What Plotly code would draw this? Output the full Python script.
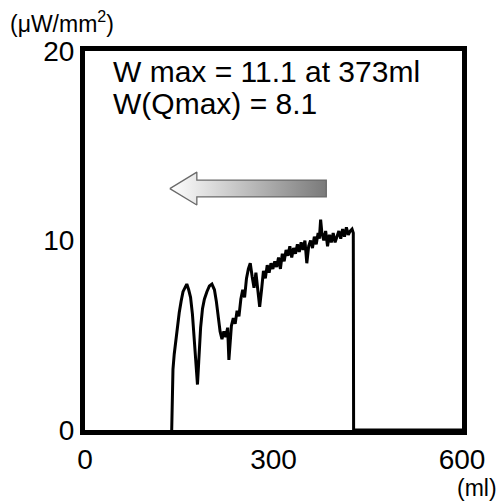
import plotly.graph_objects as go

# Voided volume (ml) and power density (uW/mm^2)
volume = [138, 139, 140, 142, 144, 147, 150, 153, 156, 159, 162, 165, 168, 171, 174, 177, 179, 181,
          184, 187, 190, 194, 198, 202, 206, 209, 212, 215, 218, 221, 224, 227, 229, 231, 233, 236,
          239, 242, 245, 248, 251, 254, 257, 260, 263, 266, 269, 272, 275, 278, 281, 284, 287, 290,
          293, 296, 299, 302, 305, 308, 311, 314, 317, 320, 323, 326, 329, 332, 335, 338, 341, 344,
          347, 350, 353, 356, 359, 362, 365, 368, 371, 373, 375, 377, 380, 383, 386, 389, 392, 395,
          398, 401, 404, 407, 410, 413, 416, 419, 422, 425, 427, 427.5, 600]
power = [0.0, 1.5, 3.2, 4.0, 4.6, 5.4, 6.2, 6.8, 7.3, 7.5, 7.7, 7.4, 7.0, 6.1, 4.6, 3.0, 2.4, 3.6,
         5.4, 6.4, 6.9, 7.3, 7.6, 7.7, 7.4, 6.8, 5.9, 5.2, 4.8, 5.2, 4.9, 5.4, 3.7, 4.6, 5.5, 5.9,
         5.6, 6.3, 6.0, 6.9, 7.4, 7.0, 8.0, 8.5, 8.8, 8.1, 7.5, 8.3, 7.2, 6.5, 7.4, 8.4, 8.0, 8.7,
         8.3, 8.8, 8.5, 8.9, 8.6, 9.1, 8.5, 9.3, 8.9, 9.5, 9.2, 9.7, 9.1, 9.6, 9.3, 9.8, 9.4, 9.9,
         9.5, 10.0, 8.8, 9.7, 10.0, 9.6, 10.2, 9.8, 10.4, 10.1, 11.1, 10.4, 10.0, 10.5, 9.7, 10.3, 9.9, 10.4,
         9.9, 10.2, 10.5, 10.1, 10.6, 10.2, 10.7, 10.3, 10.5, 10.6, 10.4, 0.0, 0.0]

x_ticks = [0, 300, 600]
y_ticks = [0, 10, 20]
text_lines = ["W max = 11.1 at 373ml", "W(Qmax) = 8.1"]

# flow-direction arrow outline (data units)
arrow_x = [135, 178, 178, 384, 384, 178, 178, 135]
arrow_y = [12.74, 13.61, 13.19, 13.19, 12.30, 12.30, 11.87, 12.74]

fig = go.Figure()
fig.add_trace(go.Scatter(
    x=arrow_x, y=arrow_y, mode="lines", fill="toself",
    fillgradient=dict(type="horizontal", colorscale=[[0, "#ffffff"], [1, "#7a7a7a"]]),
    line=dict(color="#6a6a6a", width=1.3), hoverinfo="skip", showlegend=False))
fig.add_trace(go.Scatter(
    x=volume, y=power, mode="lines",
    line=dict(color="black", width=3), showlegend=False))

font_main = "Liberation Sans, Arial, sans-serif"
axis_common = dict(showgrid=False, zeroline=False, showline=True, linecolor="black",
                   linewidth=5, mirror=True, ticks="",
                   tickfont=dict(family=font_main, size=28, color="black"))
fig.update_xaxes(range=[0, 600], tickvals=x_ticks, **axis_common)
fig.update_yaxes(range=[0, 20], tickvals=y_ticks, **axis_common)

ann = []
for t, yy in zip(text_lines, [0.946, 0.862]):
    ann.append(dict(text=t, x=0.068, y=yy, xref="paper", yref="paper", xanchor="left",
                    yanchor="middle", showarrow=False,
                    font=dict(family=font_main, size=30, color="black")))
ann.append(dict(text="(μW/mm<sup>2</sup>)", x=-0.204, y=1.076, xref="paper", yref="paper",
                xanchor="left", yanchor="middle", showarrow=False,
                font=dict(family=font_main, size=23, color="black")))
ann.append(dict(text="(ml)", x=1.098, y=-0.152, xref="paper", yref="paper",
                xanchor="right", yanchor="middle", showarrow=False,
                font=dict(family=font_main, size=23, color="black")))

fig.update_layout(width=504, height=501, margin=dict(l=85, r=42, t=51, b=71),
                  plot_bgcolor="white", paper_bgcolor="white", annotations=ann)
fig.write_html("out.html", config={"displayModeBar": False})

# remove the browser's default page margin so the figure sits at the window origin
with open("out.html", "r", encoding="utf-8") as f:
    html = f.read()
html = html.replace("<body>", '<body style="margin:0;overflow:hidden">', 1)
html = html.replace("<head>", "<head><style>html,body{margin:0;padding:0}</style>", 1)
with open("out.html", "w", encoding="utf-8") as f:
    f.write(html)
